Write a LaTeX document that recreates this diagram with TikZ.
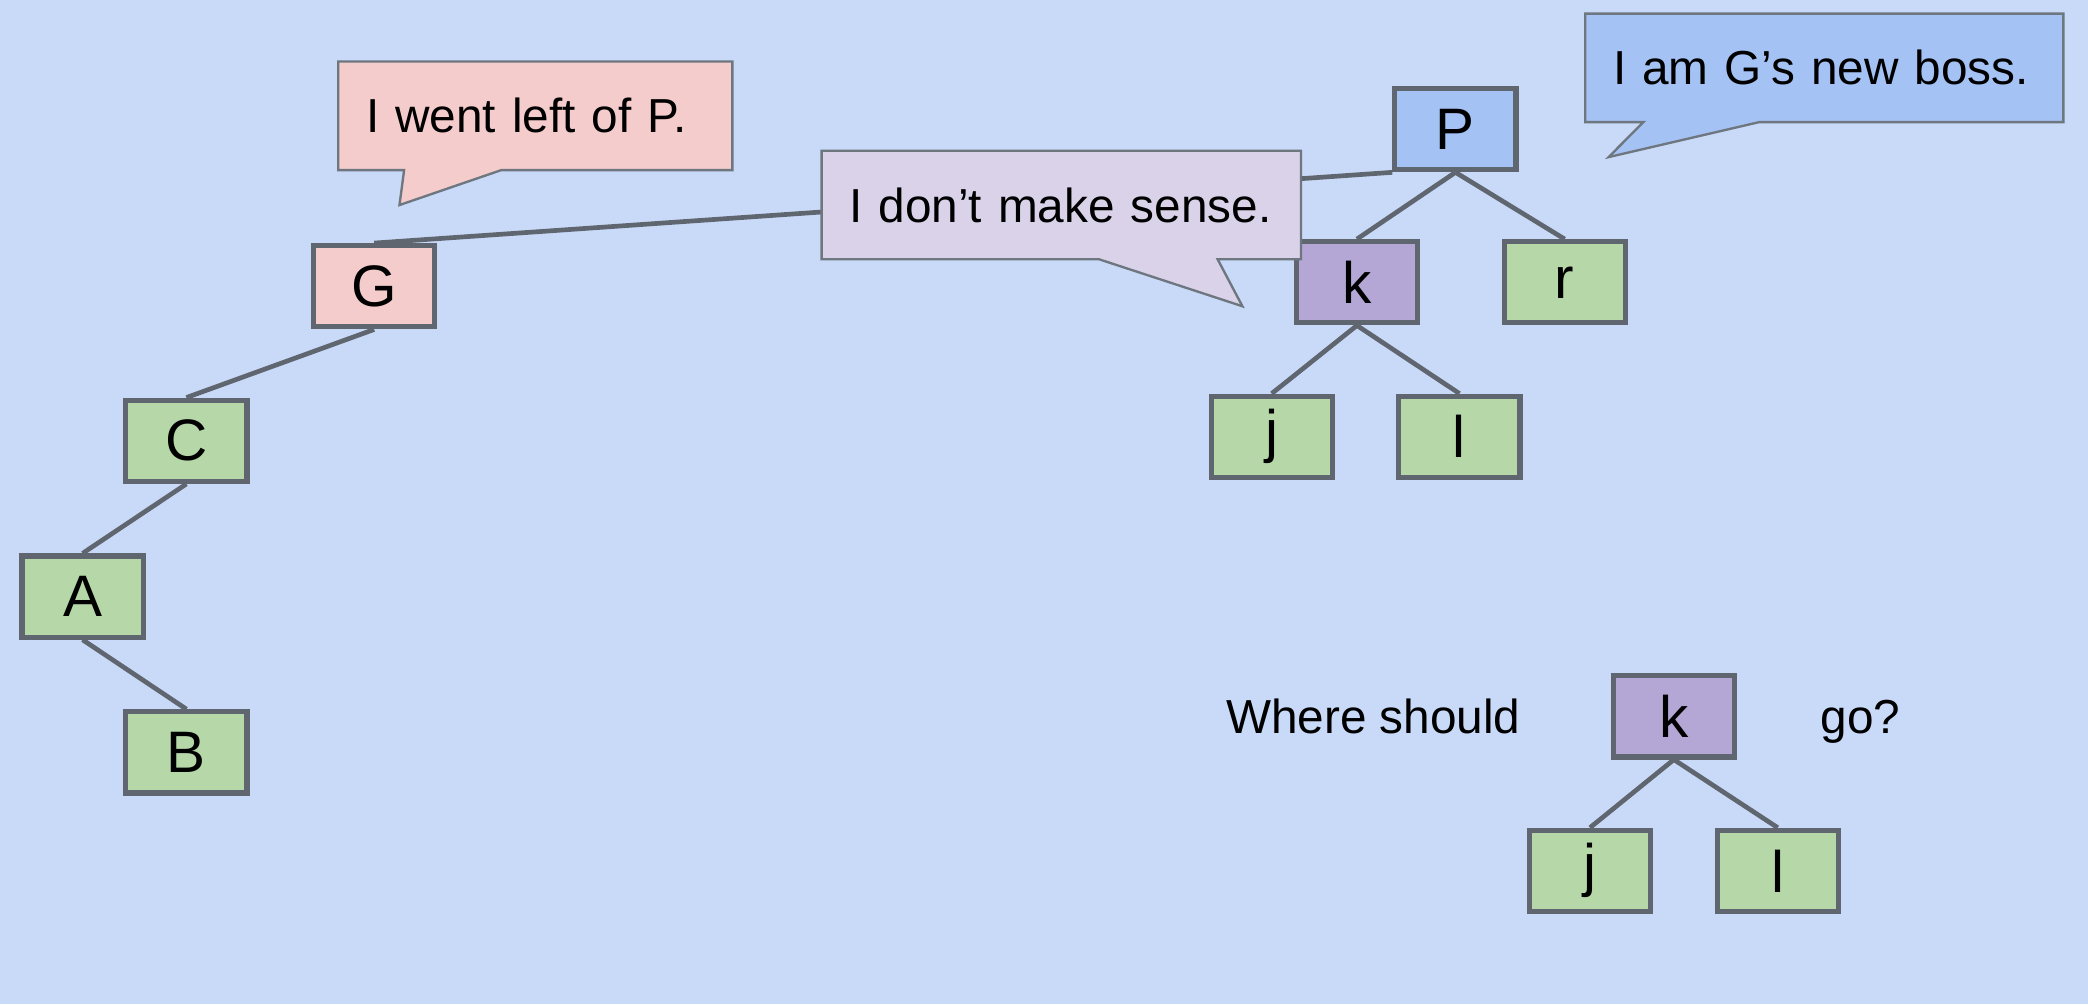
\documentclass[tikz,border=0pt]{standalone}
\usepackage{fontspec}
\setmainfont{Liberation Sans}
\usetikzlibrary{positioning,shapes.callouts,trees}

\definecolor{slidebg}{HTML}{C9DAF8}
\definecolor{leafgreen}{HTML}{B6D7A8}
\definecolor{bossblue}{HTML}{A4C2F4}
\definecolor{kpurple}{HTML}{B4A7D6}
\definecolor{gpink}{HTML}{F4CCCC}
\definecolor{sensepurple}{HTML}{D9D2E9}
\definecolor{edgegray}{HTML}{5F6670}
\definecolor{bubblegray}{HTML}{6E7680}

\tikzset{
  keynode/.style={rectangle, draw=edgegray, line width=1.1pt, fill=leafgreen,
    minimum width=9.1mm, minimum height=6.1mm, inner sep=0pt,
    font=\fontsize{12.5}{14}\selectfont},
  link/.style={draw=edgegray, line width=1pt},
  bubble/.style={rectangle callout, draw=bubblegray, line width=0.5pt,
    align=left, inner xsep=2.1mm, inner ysep=0pt, minimum height=8.15mm,
    font=\fontsize{10.2}{12}\selectfont},
  qtext/.style={inner sep=0pt, text depth=0pt, font=\fontsize{10.2}{12}\selectfont}
}

\begin{document}
\begin{tikzpicture}[x=0.1mm, y=-0.1mm,
  parent anchor=south, child anchor=north,
  edge from parent/.style={link}]

  \path[use as bounding box, fill=slidebg] (0,0) rectangle (1568,754);

  % G went left of P
  \node[keynode, fill=gpink] (G) at (281,215) {G};
  \node[keynode] (C) at (140,331) {C};
  \node[keynode] (A) at (62,448) {A};
  \node[keynode] (B) at (140,565) {B};
  \draw[link] (G.south) -- (C.north);
  \draw[link] (C.south) -- (A.north);
  \draw[link] (A.south) -- (B.north);

  % P and its subtree
  \begin{scope}[
    level 1/.style={grow via three points={one child at (0mm,-11.5mm) and
      two children at (-7.4mm,-11.5mm) and (8.2mm,-11.5mm)}},
    level 2/.style={grow via three points={one child at (0mm,-11.6mm) and
      two children at (-6.4mm,-11.6mm) and (7.7mm,-11.6mm)}}]
    \node[keynode, fill=bossblue] (P) at (1093,97) {P}
      child { node[keynode, fill=kpurple] (k) {k}
               child { node[keynode] (j) {j} }
               child { node[keynode] (l) {l} } }
      child { node[keynode] (r) {r} };
  \end{scope}
  \draw[link] (G.north) -- (P.south west);

  % the question
  \begin{scope}[
    level 1/.style={grow via three points={one child at (0mm,-11.6mm) and
      two children at (-6.3mm,-11.6mm) and (7.8mm,-11.6mm)}}]
    \node[keynode, fill=kpurple] (kk) at (1257,538) {k}
      child { node[keynode] (jj) {j} }
      child { node[keynode] (ll) {l} };
  \end{scope}
  \node[qtext, left=6.7mm of kk] (where) {Where should};
  \node[qtext, right=6.2mm of kk] (go) {go?};

  % speech bubbles
  \coordinate (wenttip) at (300,154);
  \coordinate (sensetip) at (933,230);
  \coordinate (bosstip) at (1208,118);
  \node[bubble, fill=gpink, text width=25.4mm, callout pointer width=7.3mm,
        callout absolute pointer={(wenttip)}] (went) at (402,87) {I went left of P.};
  \node[bubble, fill=sensepurple, text width=31.8mm, callout pointer width=8.9mm,
        callout absolute pointer={(sensetip)}] (sense) at (797,154) {I don’t make sense.};
  \node[bubble, fill=bossblue, text width=31.7mm, callout pointer width=8.7mm,
        callout absolute pointer={(bosstip)}] (boss) at (1370,51) {I am G’s new boss.};
\end{tikzpicture}
\end{document}
